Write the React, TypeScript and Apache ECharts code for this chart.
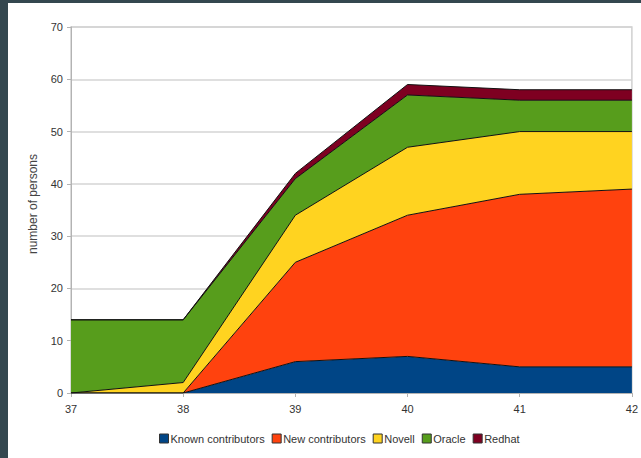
import React, { useEffect, useRef } from "react";
import * as echarts from "echarts";

const categories = ["37", "38", "39", "40", "41", "42"];
const knownContributors = [0, 0, 6, 7, 5, 5];
const newContributors = [0, 0, 19, 27, 33, 34];
const novell = [0, 2, 9, 13, 12, 11];
const oracle = [14, 12, 7, 10, 6, 6];
const redhat = [0, 0, 1, 2, 2, 2];

const seriesNames = ["Known contributors", "New contributors", "Novell", "Oracle", "Redhat"];
const seriesData = [knownContributors, newContributors, novell, oracle, redhat];
const seriesColors = ["#004586", "#ff420e", "#ffd320", "#579d1c", "#7e0021"];

const FONT = "'Liberation Sans', Arial, sans-serif";

export default function App() {
  const ref = useRef<HTMLDivElement>(null);
  useEffect(() => {
    const chart = echarts.init(ref.current!, null, { renderer: "svg" });
    chart.setOption({
      animation: false,
      backgroundColor: "#ffffff",
      grid: {
        left: 63,
        right: 1,
        top: 24,
        bottom: 65,
        containLabel: false,
        show: true,
        borderColor: "#d0d0d0",
        borderWidth: 1.5,
      },
      legend: {
        data: seriesNames,
        bottom: 9,
        left: 146,
        itemWidth: 9,
        itemHeight: 9,
        itemGap: 7,
        icon: "rect",
        itemStyle: { borderColor: "#333", borderWidth: 1 },
        textStyle: { fontFamily: FONT, fontSize: 11, color: "#333", padding: [0, 0, 0, -3] },
      },
      graphic: [
        {
          type: "text",
          x: 25,
          y: 201,
          rotation: Math.PI / 2,
          style: {
            text: "number of persons",
            fontFamily: FONT,
            fontSize: 12,
            fill: "#444",
            align: "center",
            verticalAlign: "middle",
          },
        },
      ],
      xAxis: {
        type: "category",
        data: categories,
        boundaryGap: false,
        axisLine: { lineStyle: { color: "#b3b3b3", width: 1 } },
        axisTick: { show: true, length: 4, lineStyle: { color: "#b3b3b3" } },
        axisLabel: { fontFamily: FONT, fontSize: 11, color: "#333", margin: 10 },
        splitLine: { show: false },
      },
      yAxis: {
        type: "value",
        min: 0,
        max: 70,
        interval: 10,
        axisLine: { show: true, lineStyle: { color: "#b3b3b3", width: 1 } },
        axisTick: { show: true, length: 4, lineStyle: { color: "#b3b3b3" } },
        axisLabel: { fontFamily: FONT, fontSize: 11, color: "#333", margin: 8 },
        splitLine: { show: true, lineStyle: { color: "#d4d4d4", width: 1.5 } },
      },
      series: seriesNames.map((name, i) => ({
        name,
        type: "line",
        stack: "total",
        data: seriesData[i],
        showSymbol: false,
        symbol: "none",
        itemStyle: { color: seriesColors[i], borderColor: "#222", borderWidth: 1 },
        lineStyle: { color: "#111", width: 1 },
        areaStyle: { color: seriesColors[i], opacity: 1 },
        z: 2,
      })),
    });
    return () => chart.dispose();
  }, []);
  return (
    <div style={{ position: "absolute", left: 0, top: 0, width: 641, height: 458, background: "#34474f" }}>
      <div
        ref={ref}
        style={{ position: "absolute", left: 8, top: 3, width: 633, height: 455, background: "#fff" }}
      />
    </div>
  );
}
